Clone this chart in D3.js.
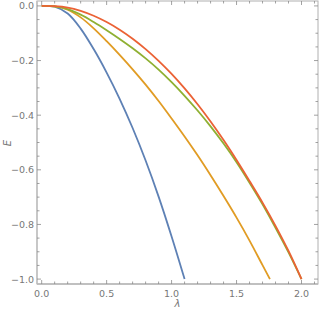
<!DOCTYPE html>
<html><head><meta charset="utf-8">
<script src="https://cdn.jsdelivr.net/npm/d3@7"></script>
<style>html,body{margin:0;padding:0;background:#fff;}svg{display:block;}</style>
</head><body>
<script>
// Data
const blueL = [0,0.1,0.2,0.3,0.4,0.5,0.6,0.7,0.8,0.9,1.0,1.1];
const blueE = [0,-0.003,-0.028,-0.083,-0.158,-0.244,-0.34,-0.447,-0.566,-0.698,-0.844,-1.0];
const orangeL = [0,0.1,0.2,0.3,0.4,0.5,0.6,0.7,0.8,0.9,1.0,1.1,1.2,1.3,1.4,1.5,1.6,1.7,1.757];
const orangeE = [0,-0.002,-0.014,-0.042,-0.082,-0.129,-0.179,-0.232,-0.288,-0.348,-0.412,-0.478,-0.547,-0.62,-0.696,-0.775,-0.859,-0.949,-1.0];
const greenL = [0,0.1,0.2,0.3,0.4,0.5,0.6,0.7,0.8,0.9,1.0,1.1,1.2,1.3,1.4,1.5,1.6,1.7,1.8,1.9,2.0];
const greenE = [0,-0.002,-0.012,-0.032,-0.059,-0.089,-0.121,-0.155,-0.192,-0.233,-0.279,-0.329,-0.383,-0.441,-0.504,-0.572,-0.647,-0.726,-0.812,-0.902,-1.0];
const redL = [0,0.1,0.2,0.3,0.4,0.5,0.6,0.7,0.8,0.9,1.0,1.1,1.2,1.3,1.4,1.5,1.6,1.7,1.8,1.9,2.0];
const redE = [0,-0.001,-0.006,-0.018,-0.036,-0.059,-0.087,-0.12,-0.158,-0.201,-0.249,-0.302,-0.36,-0.423,-0.491,-0.564,-0.641,-0.72,-0.805,-0.897,-1.0];
const seriesNames = ["blue","orange","green","red"];
const seriesColors = ["#5E81B5","#E19C24","#8FB032","#EB6235"];
const xMajor = [0,0.5,1.0,1.5,2.0];
const yMajor = [0,-0.2,-0.4,-0.6,-0.8,-1.0];
const xLabel = "λ", yLabel = "E";

const W = 321, H = 314;
const L = 37, R = 318, T = 1, B = 284;
const svg = d3.select("body").append("svg").attr("width", W).attr("height", H);
const x = d3.scaleLinear().domain([-0.036, 2.127]).range([L, R]);
const y = d3.scaleLinear().domain([0.018, -1.018]).range([T, B]);

const series = [
  blueL.map((l,i)=>[l,blueE[i]]),
  orangeL.map((l,i)=>[l,orangeE[i]]),
  greenL.map((l,i)=>[l,greenE[i]]),
  redL.map((l,i)=>[l,redE[i]])
];
const line = d3.line().x(d=>x(d[0])).y(d=>y(d[1])).curve(d3.curveCatmullRom.alpha(0.5));
series.forEach((s,i)=>{
  svg.append("path").datum(s).attr("d", line).attr("fill","none")
    .attr("stroke", seriesColors[i]).attr("stroke-width", 1.8).attr("class", seriesNames[i]);
});

const frameColor = "#b0b0b0", tickColor = "#8a8a8a", textColor = "#777";
// frame
svg.append("rect").attr("x", L).attr("y", T).attr("width", R-L).attr("height", B-T)
  .attr("fill","none").attr("stroke", frameColor).attr("stroke-width", 1);
svg.append("line").attr("x1", L).attr("x2", L).attr("y1", T).attr("y2", B).attr("stroke","#c4c4c4").attr("stroke-width",1.6);
svg.append("line").attr("x1", L).attr("x2", R).attr("y1", B).attr("y2", B).attr("stroke","#b8b8b8").attr("stroke-width",1.4);

const xMinor = d3.range(0, 2.11, 0.1).filter(v => !xMajor.some(m => Math.abs(m-v)<1e-6));
const yMinor = d3.range(0, -1.01, -0.05).filter(v => !yMajor.some(m => Math.abs(m-v)<1e-6));
const g = svg.append("g").attr("stroke", tickColor).attr("stroke-width", 0.8);
xMajor.forEach(v=>{
  g.append("line").attr("x1",x(v)).attr("x2",x(v)).attr("y1",B).attr("y2",B-4);
  g.append("line").attr("x1",x(v)).attr("x2",x(v)).attr("y1",T).attr("y2",T+4);
});
xMinor.forEach(v=>{
  g.append("line").attr("x1",x(v)).attr("x2",x(v)).attr("y1",B).attr("y2",B-2.5);
  g.append("line").attr("x1",x(v)).attr("x2",x(v)).attr("y1",T).attr("y2",T+2.5);
});
yMajor.forEach(v=>{
  g.append("line").attr("x1",L).attr("x2",L+4).attr("y1",y(v)).attr("y2",y(v));
  g.append("line").attr("x1",R).attr("x2",R-4).attr("y1",y(v)).attr("y2",y(v));
});
yMinor.forEach(v=>{
  g.append("line").attr("x1",L).attr("x2",L+2.5).attr("y1",y(v)).attr("y2",y(v));
  g.append("line").attr("x1",R).attr("x2",R-2.5).attr("y1",y(v)).attr("y2",y(v));
});

const fmt = v => (v<0 ? "\u2212" : "") + Math.abs(v).toFixed(1);
xMajor.forEach(v=>{
  svg.append("text").attr("x", x(v)).attr("y", B+13).attr("text-anchor","middle")
    .attr("font-family","DejaVu Sans, sans-serif").attr("font-size",9.5).attr("fill",textColor).text(fmt(v));
});
yMajor.forEach(v=>{
  svg.append("text").attr("x", L-3).attr("y", y(v)+3.5).attr("text-anchor","end")
    .attr("font-family","DejaVu Sans, sans-serif").attr("font-size",9.5).attr("fill",textColor).text(fmt(v));
});
svg.append("text").attr("x", (L+R)/2).attr("y", 307).attr("text-anchor","middle")
  .attr("font-family","DejaVu Sans, sans-serif").attr("font-style","italic").attr("font-size",10).attr("fill",textColor).text(xLabel);
svg.append("text").attr("transform","translate(11,143) rotate(-90)").attr("text-anchor","middle")
  .attr("font-family","DejaVu Sans, sans-serif").attr("font-style","italic").attr("font-size",10).attr("fill",textColor).text(yLabel);
</script>
</body></html>
